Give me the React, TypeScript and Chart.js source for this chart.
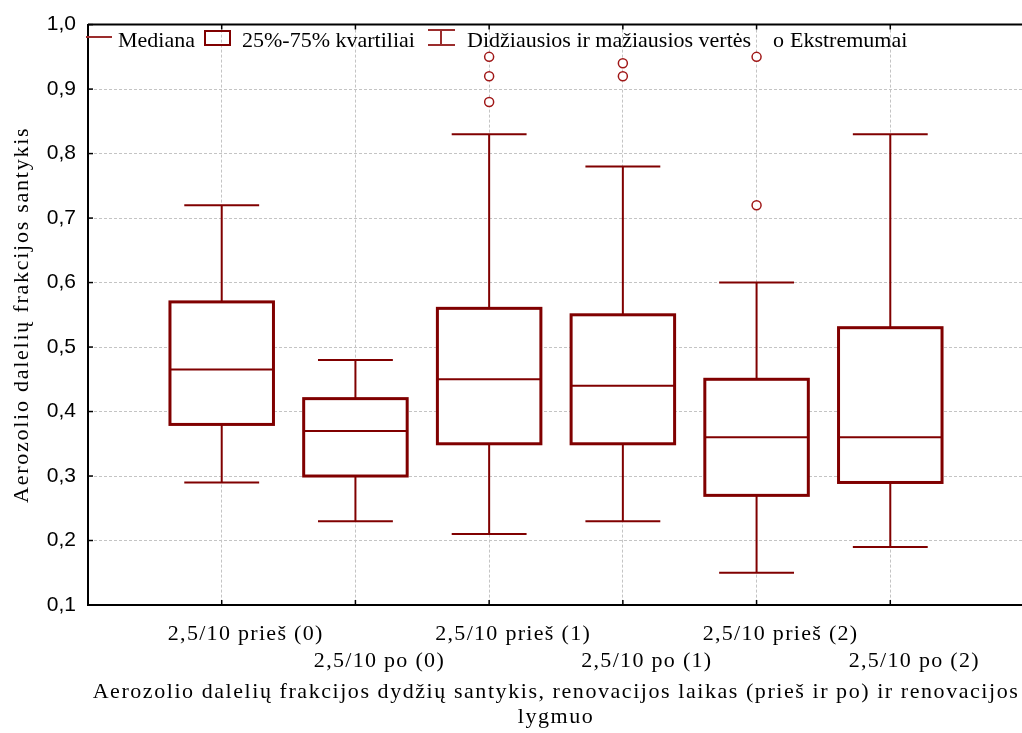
import { useEffect, useRef } from 'react';
import { Chart, registerables } from 'chart.js';

Chart.register(...registerables);

const categories = [
  '2,5/10 prieš (0)',
  '2,5/10 po (0)',
  '2,5/10 prieš (1)',
  '2,5/10 po (1)',
  '2,5/10 prieš (2)',
  '2,5/10 po (2)',
];
const whiskerMin = [0.29, 0.23, 0.21, 0.23, 0.15, 0.19];
const q1 = [0.38, 0.30, 0.35, 0.35, 0.27, 0.29];
const median = [0.465, 0.37, 0.45, 0.44, 0.36, 0.36];
const q3 = [0.57, 0.42, 0.56, 0.55, 0.45, 0.53];
const whiskerMax = [0.72, 0.48, 0.83, 0.78, 0.60, 0.83];
const outliers: number[][] = [[], [], [0.95, 0.92, 0.88], [0.94, 0.92], [0.95, 0.72], []];

const yMin = 0.1;
const yMax = 1.0;
const yStep = 0.1;

const legendLabels = ['Mediana', '25%-75% kvartiliai', 'Didžiausios ir mažiausios vertės', 'Ekstremumai'];
const xTitle = [
  'Aerozolio dalelių frakcijos dydžių santykis, renovacijos laikas (prieš ir po) ir renovacijos',
  'lygmuo',
];
const yTitle = 'Aerozolio dalelių frakcijos santykis';

const DARK = '#800000';
const SERIF = "'Liberation Serif', 'Times New Roman', serif";
const SANS = "'Liberation Sans', Arial, sans-serif";
const BOX_HALF = 0.387;
const CAP_HALF = 0.28;

function patch(scale: any, name: string, spacing: string, dx: number) {
  if (!scale || scale['_p_' + name]) return;
  const orig = scale[name].bind(scale);
  scale[name] = (...args: any[]) => {
    const ctx = scale.ctx;
    ctx.save();
    ctx.letterSpacing = spacing;
    if (dx) ctx.translate(dx, 0);
    orig(...args);
    ctx.restore();
  };
  scale['_p_' + name] = true;
}

const boxPlugin = {
  id: 'boxes',
  beforeDraw(chart: any) {
    const { x, y } = chart.scales;
    patch(x, 'drawLabels', '1.3px', 24);
    patch(x, 'drawTitle', '1.56px', 0);
    patch(y, 'drawLabels', '0px', 0);
    patch(y, 'drawTitle', '1.75px', 0);
  },
  beforeDatasetsDraw(chart: any) {
    const { ctx, scales } = chart;
    const x = scales.x;
    const y = scales.y;
    ctx.save();
    ctx.strokeStyle = DARK;
    const line = (x1: number, y1: number, x2: number, y2: number) => {
      ctx.beginPath();
      ctx.moveTo(x1, y1);
      ctx.lineTo(x2, y2);
      ctx.stroke();
    };
    categories.forEach((_, i) => {
      const c = i + 1;
      const cx = x.getPixelForValue(c);
      const bl = x.getPixelForValue(c - BOX_HALF);
      const br = x.getPixelForValue(c + BOX_HALF);
      const cl = x.getPixelForValue(c - CAP_HALF);
      const cr = x.getPixelForValue(c + CAP_HALF);
      const pMin = y.getPixelForValue(whiskerMin[i]);
      const pMax = y.getPixelForValue(whiskerMax[i]);
      const pQ1 = y.getPixelForValue(q1[i]);
      const pQ3 = y.getPixelForValue(q3[i]);
      const pMed = y.getPixelForValue(median[i]);
      ctx.lineWidth = 2;
      line(cx, pMax, cx, pQ3);
      line(cx, pQ1, cx, pMin);
      line(cl, pMax, cr, pMax);
      line(cl, pMin, cr, pMin);
      ctx.fillStyle = '#ffffff';
      ctx.fillRect(bl, pQ3, br - bl, pQ1 - pQ3);
      ctx.lineWidth = 3;
      ctx.strokeRect(bl, pQ3, br - bl, pQ1 - pQ3);
      ctx.lineWidth = 2;
      line(bl, pMed, br, pMed);
    });
    ctx.restore();
  },
  afterDraw(chart: any) {
    const { ctx, chartArea, scales } = chart;
    const x = scales.x;
    const y = scales.y;
    ctx.save();
    // top border
    ctx.strokeStyle = '#000';
    ctx.lineWidth = 2;
    ctx.beginPath();
    ctx.moveTo(chartArea.left, chartArea.top);
    ctx.lineTo(chartArea.right + 4, chartArea.top);
    ctx.stroke();
    // inner tick marks
    ctx.lineWidth = 1.5;
    x.ticks.forEach((t: any) => {
      const px = x.getPixelForValue(t.value);
      ctx.beginPath();
      ctx.moveTo(px, chartArea.bottom);
      ctx.lineTo(px, chartArea.bottom - 5);
      ctx.moveTo(px, chartArea.top);
      ctx.lineTo(px, chartArea.top + 5);
      ctx.stroke();
    });
    y.ticks.forEach((t: any) => {
      const py = y.getPixelForValue(t.value);
      ctx.beginPath();
      ctx.moveTo(chartArea.left, py);
      ctx.lineTo(chartArea.left + 5, py);
      ctx.stroke();
    });
    // legend
    (ctx as any).letterSpacing = '0px';
    ctx.font = `22px ${SERIF}`;
    ctx.fillStyle = '#000';
    ctx.textBaseline = 'alphabetic';
    ctx.textAlign = 'left';
    const base = 47;
    ctx.strokeStyle = '#9b2d2d';
    ctx.lineWidth = 2;
    ctx.beginPath();
    ctx.moveTo(86, 37);
    ctx.lineTo(112, 37);
    ctx.stroke();
    ctx.fillText(legendLabels[0], 118, base);
    ctx.strokeStyle = DARK;
    ctx.strokeRect(205, 31, 25, 14);
    ctx.fillText(legendLabels[1], 242, base);
    ctx.strokeStyle = '#9b2d2d';
    ctx.beginPath();
    ctx.moveTo(428, 30);
    ctx.lineTo(455, 30);
    ctx.moveTo(441, 30);
    ctx.lineTo(441, 45);
    ctx.moveTo(428, 45);
    ctx.lineTo(455, 45);
    ctx.stroke();
    ctx.fillText(legendLabels[2], 467, base);
    ctx.fillText('o', 773, base);
    ctx.fillText(legendLabels[3], 790, base);
    ctx.restore();
  },
};

export default function App() {
  const ref = useRef<HTMLCanvasElement>(null);
  useEffect(() => {
    document.body.style.margin = '0';
    document.body.style.overflow = 'hidden';
    const data = outliers.flatMap((arr, i) => arr.map((v) => ({ x: i + 1, y: v })));
    const chart = new Chart(ref.current!, {
      type: 'scatter',
      data: {
        datasets: [
          {
            label: legendLabels[3],
            data,
            pointStyle: 'circle',
            pointRadius: 4.5,
            pointBorderWidth: 1.5,
            borderColor: '#a01818',
            backgroundColor: '#ffffff',
          },
        ],
      },
      options: {
        responsive: false,
        animation: false,
        layout: { padding: { left: 0, top: 22, right: 4, bottom: 0 } },
        plugins: { legend: { display: false }, tooltip: { enabled: false } },
        scales: {
          x: {
            type: 'linear',
            min: 0,
            max: 7,
            afterBuildTicks: (scale: any) => {
              scale.ticks = categories.map((_, i) => ({ value: i + 1 }));
            },
            afterFit: (scale: any) => {
              scale.height = 128;
            },
            ticks: {
              autoSkip: false,
              maxRotation: 0,
              minRotation: 0,
              padding: 16,
              color: '#000',
              font: { family: SERIF, size: 22, lineHeight: 27 / 22 },
              callback: (v: any) => {
                const i = Math.round(Number(v)) - 1;
                return i % 2 === 0 ? [categories[i]] : ['', categories[i]];
              },
            },
            grid: { color: '#c4c4c4', lineWidth: 1, drawTicks: false },
            border: { display: true, color: '#000', width: 2, dash: [3, 2] },
            title: {
              display: true,
              text: xTitle,
              color: '#000',
              font: { family: SERIF, size: 22, lineHeight: 25 / 22 },
              padding: { top: 0, bottom: 3 },
            },
          },
          y: {
            type: 'linear',
            min: yMin,
            max: yMax,
            afterFit: (scale: any) => {
              scale.width = 88;
            },
            ticks: {
              stepSize: yStep,
              padding: 12,
              color: '#000',
              font: { family: SANS, size: 21 },
              callback: (v: any) => Number(v).toFixed(1).replace('.', ','),
            },
            grid: { color: '#c4c4c4', lineWidth: 1, drawTicks: false },
            border: { display: true, color: '#000', width: 2, dash: [3, 2] },
            title: {
              display: true,
              text: yTitle,
              color: '#000',
              font: { family: SERIF, size: 22, lineHeight: 1.2 },
              padding: { top: 9, bottom: 0 },
            },
          },
        },
      },
      plugins: [boxPlugin],
    });
    return () => chart.destroy();
  }, []);
  return (
    <div style={{ width: 1022, height: 733, overflow: 'hidden', background: '#fff' }}>
      <canvas ref={ref} width={1030} height={733} style={{ display: 'block' }} />
    </div>
  );
}
